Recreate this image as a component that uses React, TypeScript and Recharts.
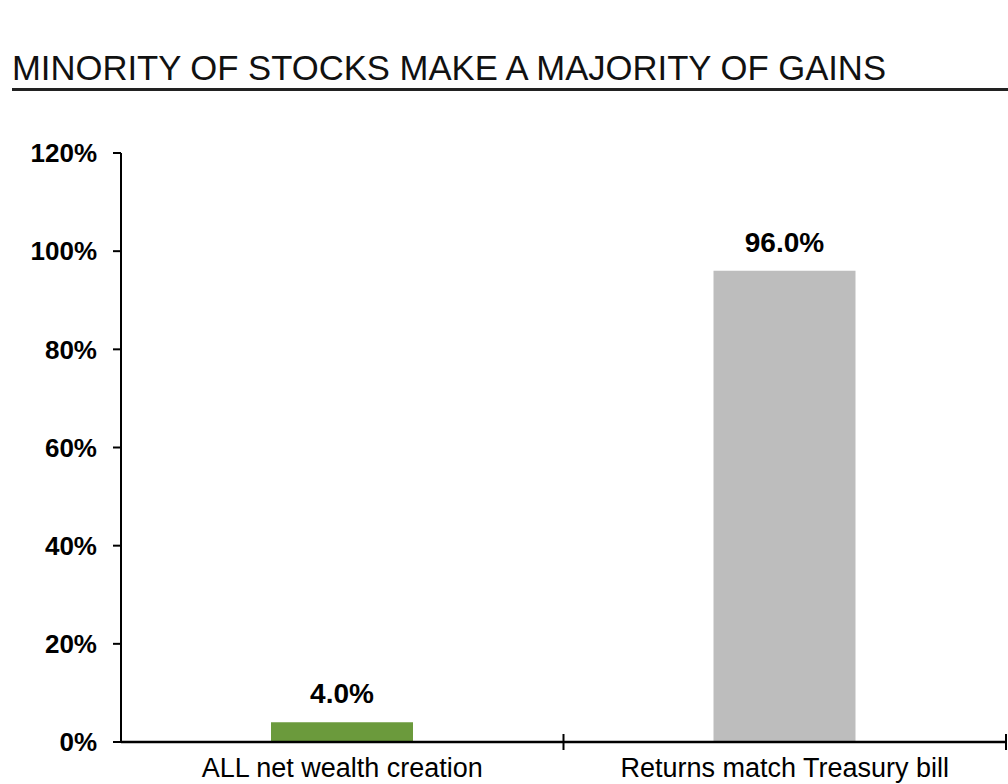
import { BarChart, Bar, XAxis, YAxis, Cell, LabelList } from 'recharts';

const title = 'MINORITY OF STOCKS MAKE A MAJORITY OF GAINS';
const categories = ['ALL net wealth creation', 'Returns match Treasury bill'];
const shares = [4.0, 96.0];
const barColors = ['#6b9a3c', '#bdbdbd'];
const yTicks = [0, 20, 40, 60, 80, 100, 120];

const data = categories.map((name, i) => ({ name, share: shares[i] }));

const font = '"Liberation Sans", Arial, sans-serif';

// category label plus the boundary mark Excel draws between categories
function CategoryTick(props: any) {
    const { x, y, payload } = props;
    const half = payload && payload.offset ? payload.offset : 221;
    return (
        <g>
            <line x1={x + half} x2={x + half} y1={y - 8} y2={y + 8} stroke="#000" strokeWidth={2} />
            <text x={x} y={y + 35} textAnchor="middle" fontSize={27} fontFamily={font} fill="#000">
                {payload.value}
            </text>
        </g>
    );
}

export default function App() {
    return (
        <div style={{ position: 'fixed', left: 0, top: 0, width: 1008, height: 784, overflow: 'hidden', background: '#fff' }}>
            <svg width={1008} height={100} style={{ position: 'absolute', left: 0, top: 0 }}>
                <text x={12} y={80} fontSize={35} fontFamily={font} fill="#111" textLength={874} lengthAdjust="spacingAndGlyphs">
                    {title}
                </text>
                <line x1={12} x2={1008} y1={89.5} y2={89.5} stroke="#222" strokeWidth={3} />
            </svg>
            <div style={{ position: 'absolute', left: 0, top: 0 }}>
                <BarChart width={1008} height={800} data={data} margin={{ top: 153, right: 2, bottom: 16, left: 0 }}>
                    <YAxis
                        width={121}
                        domain={[0, 120]}
                        ticks={yTicks}
                        interval={0}
                        tickFormatter={(v: number) => v + '%'}
                        tickSize={8}
                        tickMargin={16}
                        tick={{ fontSize: 26, fontWeight: 'bold', fill: '#000', fontFamily: font }}
                        axisLine={{ stroke: '#000', strokeWidth: 2 }}
                        tickLine={{ stroke: '#000', strokeWidth: 2 }}
                    />
                    <XAxis
                        dataKey="name"
                        height={42}
                        tickSize={0}
                        tickMargin={0}
                        tickLine={false}
                        tick={<CategoryTick />}
                        axisLine={{ stroke: '#000', strokeWidth: 2.5 }}
                        interval={0}
                    />
                    <Bar dataKey="share" barSize={142} isAnimationActive={false}>
                        {data.map((d, i) => (
                            <Cell key={d.name} fill={barColors[i]} />
                        ))}
                        <LabelList
                            dataKey="share"
                            position="top"
                            offset={19}
                            formatter={(v: any) => Number(v).toFixed(1) + '%'}
                            style={{ fontSize: 28, fontWeight: 'bold', fill: '#000', fontFamily: font }}
                        />
                    </Bar>
                </BarChart>
            </div>
        </div>
    );
}
